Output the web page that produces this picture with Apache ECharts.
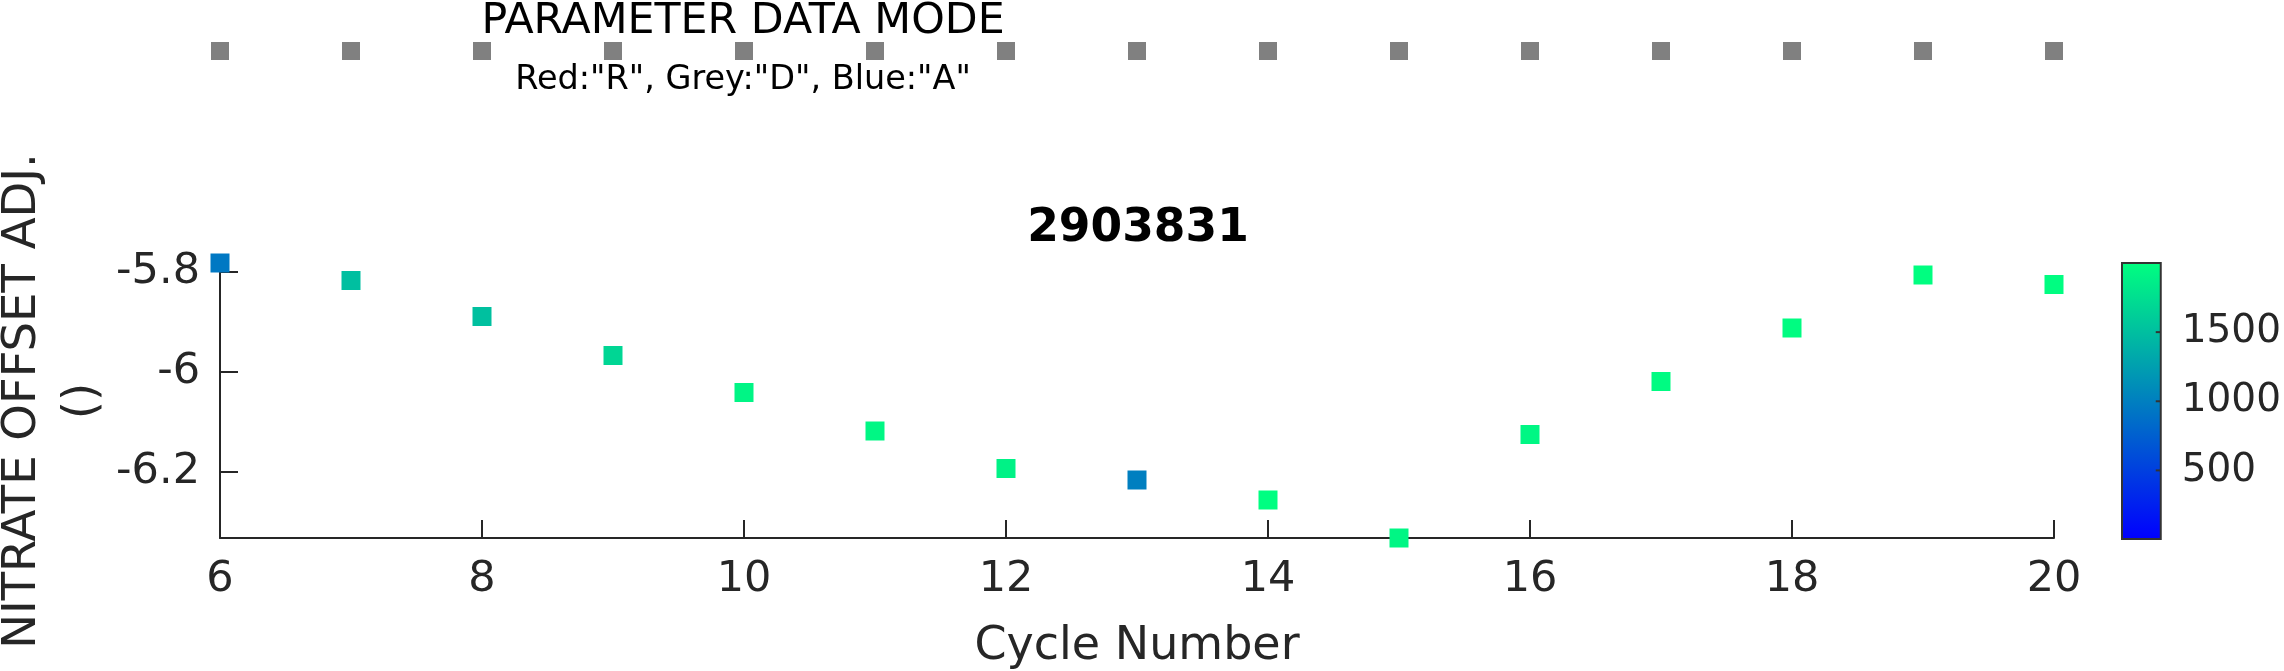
<!DOCTYPE html>
<html>
<head>
<meta charset="utf-8">
<script src="https://cdn.jsdelivr.net/npm/echarts@6/dist/echarts.min.js"></script>
<style>
html,body{margin:0;padding:0;background:#fff;}
#c{width:2284px;height:671px;}
</style>
</head>
<body>
<div id="c"></div>
<script>
// ---- data ----
var cycles = [6, 7, 8, 9, 10, 11, 12, 13, 14, 15, 16, 17, 18, 19, 20];
var nitrateOffset = [-5.782, -5.817, -5.889, -5.967, -6.041, -6.118, -6.193, -6.216, -6.256, -6.332, -6.125, -6.019, -5.912, -5.806, -5.825];
var pressure = [942, 1500, 1510, 1680, 1920, 1940, 1900, 1000, 1990, 1930, 1940, 1970, 1980, 1995, 1985];
var dataModeCycles = [6, 7, 8, 9, 10, 11, 12, 13, 14, 15, 16, 17, 18, 19, 20];
var dataModeLevel = [0, 0, 0, 0, 0, 0, 0, 0, 0, 0, 0, 0, 0, 0, 0];
var yTicks = [-6.2, -6, -5.8];
var xTicks = [6, 8, 10, 12, 14, 16, 18, 20];
var colorbarTicks = [500, 1000, 1500];
var colorRange = [4, 2000];
var colormap = ['#0000ff', '#00ff80'];
var yRange = [-6.332, -5.782];
var xRange = [6, 20];

var FONT = 'DejaVu Sans';
var AX = '#262626';

var mainData = cycles.map(function (c, i) { return [c, nitrateOffset[i], pressure[i]]; });
var modeData = dataModeCycles.map(function (c, i) { return [c, dataModeLevel[i]]; });
var colorbarData = [[0, colorRange[0], colorRange[1]]];
var colorbarTickData = colorbarTicks.map(function (v) { return [1, v]; });

var chart = echarts.init(document.getElementById('c'), null, {renderer: 'canvas'});
chart.setOption({
  backgroundColor: '#ffffff',
  animation: false,
  textStyle: {fontFamily: FONT},
  grid: [
    {left: 220, right: 230, top: 263, bottom: 133, containLabel: false},
    {left: 220, right: 230, top: 41, height: 20, containLabel: false},
    {left: 2122, top: 263, width: 51, bottom: 132, containLabel: false, show: true,
     borderColor: '#333333', borderWidth: 2, backgroundColor: 'transparent', z: 10}
  ],
  xAxis: [
    {
      gridIndex: 0, type: 'value', min: xRange[0], max: xRange[1], interval: 2,
      axisLine: {show: true, onZero: false, lineStyle: {color: AX, width: 2}},
      axisTick: {show: true, inside: true, length: 18, lineStyle: {color: AX, width: 2}, customValues: xTicks},
      axisLabel: {show: true, color: AX, fontSize: 43, fontFamily: FONT, margin: 20, customValues: xTicks},
      splitLine: {show: false},
      name: 'Cycle Number', nameLocation: 'middle', nameGap: 86,
      nameTextStyle: {color: AX, fontSize: 46, fontFamily: FONT}
    },
    {gridIndex: 1, type: 'value', min: xRange[0], max: xRange[1], show: false},
    {gridIndex: 2, type: 'value', min: 0, max: 1, show: false}
  ],
  yAxis: [
    {
      gridIndex: 0, type: 'value', min: yRange[0], max: yRange[1],
      axisLine: {show: true, onZero: false, lineStyle: {color: AX, width: 2}},
      axisTick: {show: true, inside: true, length: 18, lineStyle: {color: AX, width: 2}, customValues: yTicks},
      axisLabel: {show: true, color: AX, fontSize: 43, fontFamily: FONT, margin: 20, customValues: yTicks,
        formatter: function (v) { return String(v); }},
      splitLine: {show: false}
    },
    {gridIndex: 1, type: 'value', min: -1, max: 1, show: false},
    {
      gridIndex: 2, type: 'value', position: 'right', min: colorRange[0], max: colorRange[1], z: 12,
      axisLine: {show: false},
      axisTick: {show: false},
      axisLabel: {show: true, color: AX, fontSize: 39, fontFamily: FONT, margin: 21, customValues: colorbarTicks,
        formatter: function (v) { return String(v); }},
      splitLine: {show: false}
    }
  ],
  visualMap: {
    type: 'continuous', min: colorRange[0], max: colorRange[1], dimension: 2, seriesIndex: 0,
    inRange: {color: colormap}, show: false
  },
  title: [
    {text: '2903831', left: 1133, top: 224, textAlign: 'center', textVerticalAlign: 'middle',
     textStyle: {fontSize: 45.5, fontWeight: 'bold', color: '#000', fontFamily: FONT}}
  ],
  graphic: [
    {type: 'text', x: 743, y: 22, style: {text: 'PARAMETER DATA MODE', fontSize: 42.7, fontFamily: FONT, fill: '#000', align: 'center', verticalAlign: 'middle'}},
    {type: 'text', x: 743, y: 80, style: {text: 'Red:"R", Grey:"D", Blue:"A"', fontSize: 33.5, fontFamily: FONT, fill: '#000', align: 'center', verticalAlign: 'middle'}},
    {type: 'text', x: 53, y: 401, rotation: Math.PI / 2,
     style: {text: 'NITRATE OFFSET ADJ.\n()', fontSize: 46.5, lineHeight: 60, fontFamily: FONT, fill: AX, align: 'center', verticalAlign: 'middle'}}
  ],
  series: [
    {
      type: 'scatter', xAxisIndex: 0, yAxisIndex: 0, symbol: 'rect', symbolSize: 19,
      itemStyle: {opacity: 1}, data: mainData, clip: false, z: 3
    },
    {
      type: 'scatter', xAxisIndex: 1, yAxisIndex: 1, symbol: 'rect', symbolSize: 18,
      itemStyle: {color: '#808080', opacity: 1}, data: modeData, clip: false
    },
    {
      type: 'custom', xAxisIndex: 2, yAxisIndex: 2, data: colorbarData, silent: true, z: 1,
      renderItem: function (params, api) {
        var p0 = api.coord([0, api.value(1)]);
        var p1 = api.coord([1, api.value(2)]);
        return {
          type: 'rect',
          shape: {x: p0[0], y: p1[1], width: p1[0] - p0[0], height: p0[1] - p1[1]},
          style: {fill: new echarts.graphic.LinearGradient(0, 1, 0, 0, [
            {offset: 0, color: colormap[0]}, {offset: 1, color: colormap[1]}])}
        };
      }
    },
    {
      type: 'custom', xAxisIndex: 2, yAxisIndex: 2, data: colorbarTickData, silent: true, z: 5,
      renderItem: function (params, api) {
        var p = api.coord([api.value(0), api.value(1)]);
        return {
          type: 'line',
          shape: {x1: p[0] - 5, y1: p[1], x2: p[0], y2: p[1]},
          style: {stroke: '#333333', lineWidth: 2}
        };
      }
    }
  ]
});
</script>
</body>
</html>
